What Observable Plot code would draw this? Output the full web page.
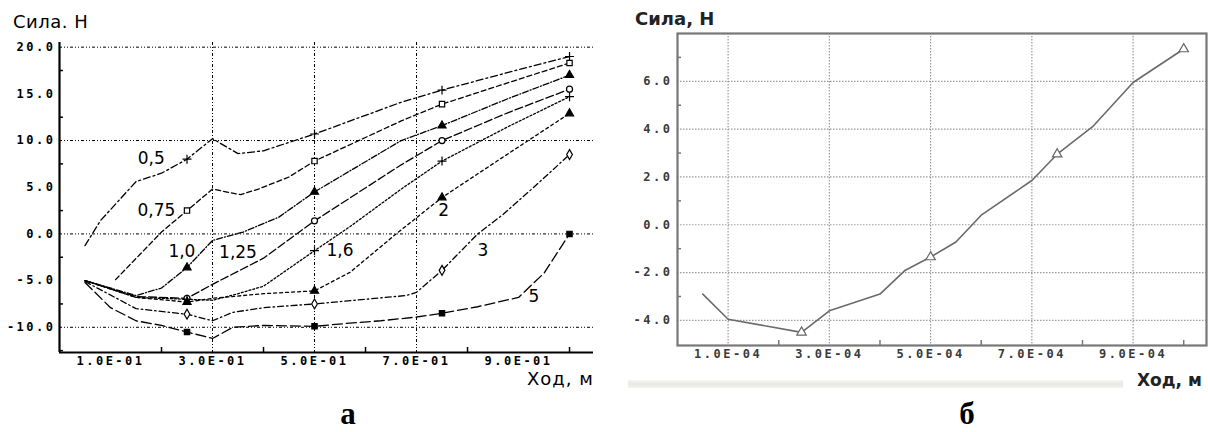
<!DOCTYPE html>
<html><head><meta charset="utf-8">
<script src="https://cdn.jsdelivr.net/npm/d3@7"></script>
<script src="https://cdn.jsdelivr.net/npm/@observablehq/plot@0.6"></script>
<style>
html,body{margin:0;padding:0;background:#fff}
body{width:1208px;height:432px;overflow:hidden;position:relative}
.abs{position:absolute}
g[aria-label="y-axis tick label"], g[aria-label="x-axis tick label"]{letter-spacing:2.5px}
</style></head><body>
<div id="band" class="abs" style="left:628px;top:380px;width:495px;height:8px;background:linear-gradient(#f6f6f2,#e8e8e2,#f4f4f0)"></div>
<div id="a" class="abs" style="left:0;top:0"></div>
<div id="b" class="abs" style="left:600px;top:0"></div>
<script>
// ---------- Panel a: force vs stroke, several curves ----------
const curveNames = ["0,5","0,75","1,0","1,25","1,6","2","3","5"];
const curve05  = [[0.05,-1.25],[0.08,1.4],[0.15,5.6],[0.2,6.5],[0.25,8.0],[0.3,10.2],[0.35,8.6],[0.4,8.9],[0.45,9.8],[0.5,10.7],[0.67,14.1],[0.75,15.4],[0.88,17.3],[1.0,19.0]];
const curve075 = [[0.11,-4.9],[0.2,0.2],[0.25,2.5],[0.3,4.8],[0.355,4.2],[0.39,4.8],[0.45,6.1],[0.5,7.8],[0.67,12.1],[0.75,13.9],[0.88,16.2],[1.0,18.3]];
const curve10  = [[0.05,-5.0],[0.15,-6.6],[0.2,-5.8],[0.25,-3.6],[0.3,-0.7],[0.36,0.2],[0.43,1.8],[0.5,4.5],[0.67,10.0],[0.75,11.6],[0.88,14.5],[1.0,17.0]];
const curve125 = [[0.05,-5.0],[0.15,-6.7],[0.25,-6.9],[0.3,-5.4],[0.4,-2.6],[0.5,1.4],[0.67,7.4],[0.75,10.0],[0.88,13.0],[1.0,15.5]];
const curve16  = [[0.05,-5.0],[0.15,-6.8],[0.25,-7.0],[0.3,-7.1],[0.35,-6.4],[0.4,-5.6],[0.5,-1.8],[0.57,0.8],[0.67,4.8],[0.75,7.8],[0.88,11.5],[1.0,14.7]];
const curve2   = [[0.05,-5.0],[0.15,-6.8],[0.25,-7.3],[0.3,-6.9],[0.4,-6.4],[0.5,-6.1],[0.57,-4.1],[0.66,0.0],[0.75,3.9],[0.88,8.6],[1.0,12.9]];
const curve3   = [[0.05,-5.1],[0.15,-8.0],[0.25,-8.6],[0.3,-9.3],[0.34,-8.4],[0.4,-7.9],[0.5,-7.5],[0.6,-7.0],[0.68,-6.6],[0.7,-6.25],[0.75,-3.9],[0.82,0.0],[0.87,2.1],[0.93,5.0],[1.0,8.5]];
const curve5   = [[0.05,-5.2],[0.1,-7.9],[0.15,-9.3],[0.2,-9.8],[0.25,-10.5],[0.3,-11.2],[0.34,-10.0],[0.4,-9.8],[0.5,-9.9],[0.56,-9.6],[0.63,-9.3],[0.7,-8.9],[0.75,-8.5],[0.82,-7.8],[0.9,-6.8],[0.95,-4.2],[1.0,0.0]];
const curvesA = [curve05, curve075, curve10, curve125, curve16, curve2, curve3, curve5];
const markerXA = [0.25, 0.5, 0.75, 1.0];
const labelXA = [0.18, 0.19, 0.24, 0.35, 0.55, 0.753, 0.83, 0.93];
const labelYA = [8.1, 2.5, -1.9, -2.0, -1.8, 2.5, -1.8, -6.7];
const yTicksA = [20, 15, 10, 5, 0, -5, -10];
const yMinorA = [17.5, 12.5, 7.5, 2.5, -2.5, -7.5, -12.5];
const yGridA = [20, 10, 0, -10];
const xTicksA = [0.1, 0.3, 0.5, 0.7, 0.9];
const xMinorA = [0.2, 0.4, 0.6, 0.8, 1.0];
const xGridA = [0.3, 0.5, 0.7];

// ---------- Panel b: single curve ----------
const strokeB = [0.5e-4, 1.0e-4, 2.45e-4, 3.0e-4, 4.0e-4, 4.5e-4, 5.0e-4, 5.5e-4, 6.0e-4, 7.0e-4, 7.5e-4, 8.2e-4, 9.0e-4, 10.0e-4];
const forceB  = [-2.9, -3.95, -4.5, -3.6, -2.9, -1.9, -1.35, -0.72, 0.4, 1.85, 2.95, 4.1, 5.95, 7.35];
const markerXB = [2.45e-4, 5.0e-4, 7.5e-4, 10.0e-4];
const yTicksB = [6, 4, 2, 0, -2, -4];
const yMinorB = [7, 5, 3, 1, -1, -3];
const xTicksB = [1e-4, 3e-4, 5e-4, 7e-4, 9e-4];
const xMinorB = [2e-4, 4e-4, 6e-4, 8e-4, 10e-4];

const dashes = ["7,3,2,3","5,3","6,2,1,2","8,3","2,2","3,3","6,3,1.5,3","10,4"];
const symbols = ["plus","square","triangle","circle","plus","triangle","diamond","square"];
const filled = [false,false,true,false,false,true,false,true];

const sciFmt = d => { const [m, e] = d.toExponential(1).split("e"); const n = +e; return m + "E" + (n < 0 ? "-" : "+") + String(Math.abs(n)).padStart(2, "0"); };
const tickFont = {fontFamily: "DejaVu Sans Mono", fontWeight: "bold", fontSize: 12};

// Panel a
const marksA = [
  Plot.ruleY(yGridA, {strokeDasharray: "3,2,1,2,1,2", strokeWidth: 1, stroke: "#000"}),
  Plot.ruleX(xGridA, {strokeDasharray: "3,2,1,2,1,2", strokeWidth: 1, stroke: "#000"}),
];
curvesA.forEach((pts, i) => {
  marksA.push(Plot.line(pts, {x: d => d[0], y: d => d[1], stroke: "#000", strokeWidth: 1.3, strokeDasharray: dashes[i]}));
  const mk = pts.filter(d => markerXA.includes(d[0]));
  marksA.push(Plot.dot(mk, {x: d => d[0], y: d => d[1], symbol: symbols[i], r: 3,
    fill: filled[i] ? "#000" : "#fff", stroke: "#000", strokeWidth: 1.2}));
});
marksA.push(
  Plot.text(curveNames, {x: (d, i) => labelXA[i], y: (d, i) => labelYA[i], text: d => d,
    fontFamily: "DejaVu Sans", fontSize: 17, fill: "#000"}),
  Plot.ruleX([0], {strokeWidth: 2.2, stroke: "#000"}),
  Plot.ruleY([-12.7], {strokeWidth: 2.2, stroke: "#000"}),
  Plot.axisY({ticks: yTicksA, tickSize: 0, tickPadding: 4, tickFormat: d => d.toFixed(1), label: null, ...tickFont}),
  Plot.axisY({ticks: yMinorA, tickSize: 4, dx: 4, tickFormat: () => "", label: null, strokeWidth: 1.5}),
  Plot.axisX({ticks: xTicksA, tickSize: 0, tickPadding: 4, tickFormat: sciFmt, label: null, ...tickFont}),
  Plot.axisX({ticks: xMinorA, tickSize: 5, dy: -5, tickFormat: () => "", label: null, strokeWidth: 1.5})
);
const plotA = Plot.plot({
  width: 600, height: 400,
  marginLeft: 59, marginRight: 7, marginTop: 42, marginBottom: 48,
  x: {domain: [0, 1.047]},
  y: {domain: [-12.7, 20.5]},
  marks: marksA
});
document.getElementById("a").appendChild(plotA);

// Panel b
const rowsB = strokeB.map((x, i) => ({x, y: forceB[i]}));
const grey = "#777";
const plotB = Plot.plot({
  width: 608, height: 400,
  marginLeft: 77, marginRight: 2, marginTop: 33, marginBottom: 55,
  x: {domain: [0, 1.045e-3]},
  y: {domain: [-5.05, 8.0]},
  marks: [
    Plot.ruleY(yTicksB, {strokeDasharray: "1.5,1.5", stroke: "#9a9a9a", strokeWidth: 1.2}),
    Plot.ruleX(xTicksB, {strokeDasharray: "1.5,1.5", stroke: "#9a9a9a", strokeWidth: 1.2}),
    Plot.frame({stroke: grey, strokeWidth: 2.2}),
    Plot.line(rowsB, {x: "x", y: "y", stroke: "#6a6a6a", strokeWidth: 1.6}),
    Plot.dot(rowsB.filter(d => markerXB.includes(d.x)), {x: "x", y: "y", symbol: "triangle", r: 3.5, stroke: "#666", fill: "#fff", strokeWidth: 1.2}),
    Plot.axisY({ticks: yTicksB, tickSize: 0, tickPadding: 5, tickFormat: d => d.toFixed(1), label: null, fill: "#3a3a3a", ...tickFont}),
    Plot.axisY({ticks: yMinorB, tickSize: 4, dx: 4, tickFormat: () => "", label: null, stroke: grey, strokeWidth: 1.5}),
    Plot.axisX({ticks: xTicksB, tickSize: 0, tickPadding: 4, tickFormat: sciFmt, label: null, fill: "#3a3a3a", ...tickFont}),
    Plot.axisX({ticks: xMinorB, tickSize: 5, dy: -5, tickFormat: () => "", label: null, stroke: grey, strokeWidth: 1.5})
  ]
});
document.getElementById("b").appendChild(plotB);

// Titles and captions (overlay)
const ov = d3.select("body").append("svg").attr("class", "abs")
  .style("left", "0px").style("top", "0px").style("pointer-events", "none")
  .attr("width", 1208).attr("height", 432);
const txt = (s, x, y, o) => ov.append("text").attr("x", x).attr("y", y).text(s)
  .attr("font-family", o.family || "DejaVu Sans").attr("font-size", o.size)
  .attr("font-weight", o.weight || "normal").attr("fill", o.fill || "#000")
  .attr("text-anchor", o.anchor || "start").attr("letter-spacing", o.ls || 0);
txt("Сила. Н", 13, 28, {size: 18, ls: 0.5});
txt("Ход, м", 527, 385, {size: 18, ls: 1});
txt("а", 348, 424, {size: 31, weight: "bold", family: "Liberation Serif", anchor: "middle"});
txt("Сила, Н", 635, 25, {size: 18, weight: "bold", fill: "#222"});
txt("Ход, м", 1137, 386, {size: 17, weight: "bold", fill: "#222"});
txt("б", 967, 424, {size: 31, weight: "bold", family: "Liberation Serif", anchor: "middle"});
</script>
</body></html>
